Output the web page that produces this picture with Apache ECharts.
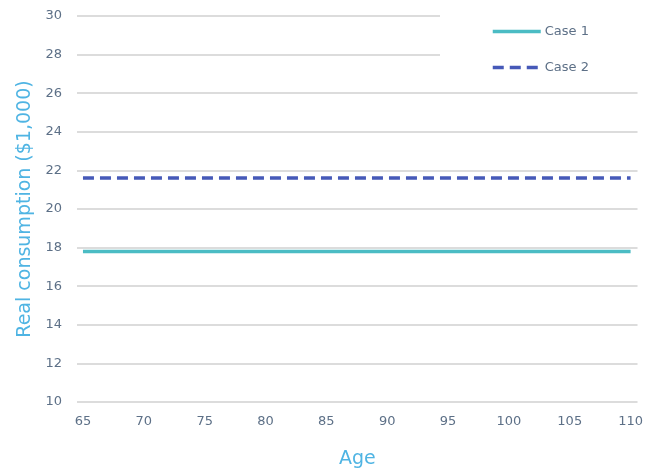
<!DOCTYPE html>
<html>
<head>
<meta charset="utf-8">
<style>
  html, body { margin: 0; padding: 0; background: #fff; }
  #chart { width: 646px; height: 474px; }
</style>
<script src="https://cdn.jsdelivr.net/npm/echarts@6/dist/echarts.min.js"></script>
</head>
<body>
<div id="chart"></div>
<script>
// Ages along the horizontal axis
const ages = [65, 70, 75, 80, 85, 90, 95, 100, 105, 110];
// Real consumption in thousands of dollars, constant across ages
const case1 = [17.8, 17.8, 17.8, 17.8, 17.8, 17.8, 17.8, 17.8, 17.8, 17.8];
const case2 = [21.6, 21.6, 21.6, 21.6, 21.6, 21.6, 21.6, 21.6, 21.6, 21.6];
const yTicks = [10, 12, 14, 16, 18, 20, 22, 24, 26, 28, 30];

const seriesNames = ['Case 1', 'Case 2'];

const labelColor = '#5d7087';
const titleColor = '#4fb4e3';
const fontFamily = '"DejaVu Sans", Lato, sans-serif';

const chart = echarts.init(document.getElementById('chart'), null, { renderer: 'canvas' });

chart.setOption({
  animation: false,
  backgroundColor: '#ffffff',
  grid: { left: 77, right: 8, top: 16, bottom: 72, containLabel: false },
  legend: {
    orient: 'vertical',
    left: 440,
    top: 0,
    backgroundColor: '#ffffff',
    padding: [25, 80, 9, 51],
    itemWidth: 48,
    itemHeight: 14,
    itemGap: 23,
    itemStyle: { opacity: 0 },
    lineStyle: { width: 3.5 },
    textStyle: { color: labelColor, fontSize: 13, fontFamily: fontFamily, padding: [0, 0, 0, -1] },
    data: seriesNames
  },
  xAxis: {
    type: 'value',
    min: 64.51,
    max: 110.57,
    name: 'Age',
    nameLocation: 'middle',
    nameGap: 48,
    nameTextStyle: { color: titleColor, fontSize: 19, fontFamily: fontFamily },
    axisLine: { show: false },
    axisTick: { show: false },
    splitLine: { show: false },
    axisLabel: {
      customValues: ages,
      color: labelColor,
      fontSize: 13,
      fontFamily: fontFamily,
      margin: 13
    }
  },
  yAxis: {
    type: 'value',
    min: yTicks[0],
    max: yTicks[yTicks.length - 1],
    interval: 2,
    name: 'Real consumption ($1,000)',
    nameLocation: 'middle',
    nameGap: 42,
    nameTextStyle: { color: titleColor, fontSize: 19, fontFamily: fontFamily },
    axisLine: { show: false },
    axisTick: { show: false },
    axisLabel: { color: labelColor, fontSize: 13, fontFamily: fontFamily, margin: 15 },
    splitLine: { lineStyle: { color: '#dcdcdc', width: 2 } }
  },
  series: [
    {
      name: seriesNames[0],
      type: 'line',
      data: ages.map((a, i) => [a, case1[i]]),
      symbol: 'none',
      lineStyle: { color: '#4bbcc4', width: 3.5 },
      itemStyle: { color: '#4bbcc4' }
    },
    {
      name: seriesNames[1],
      type: 'line',
      data: ages.map((a, i) => [a, case2[i]]),
      symbol: 'none',
      lineStyle: { color: '#4659b8', width: 3.5, type: [11, 6] },
      itemStyle: { color: '#4659b8' }
    }
  ]
});
</script>
</body>
</html>
